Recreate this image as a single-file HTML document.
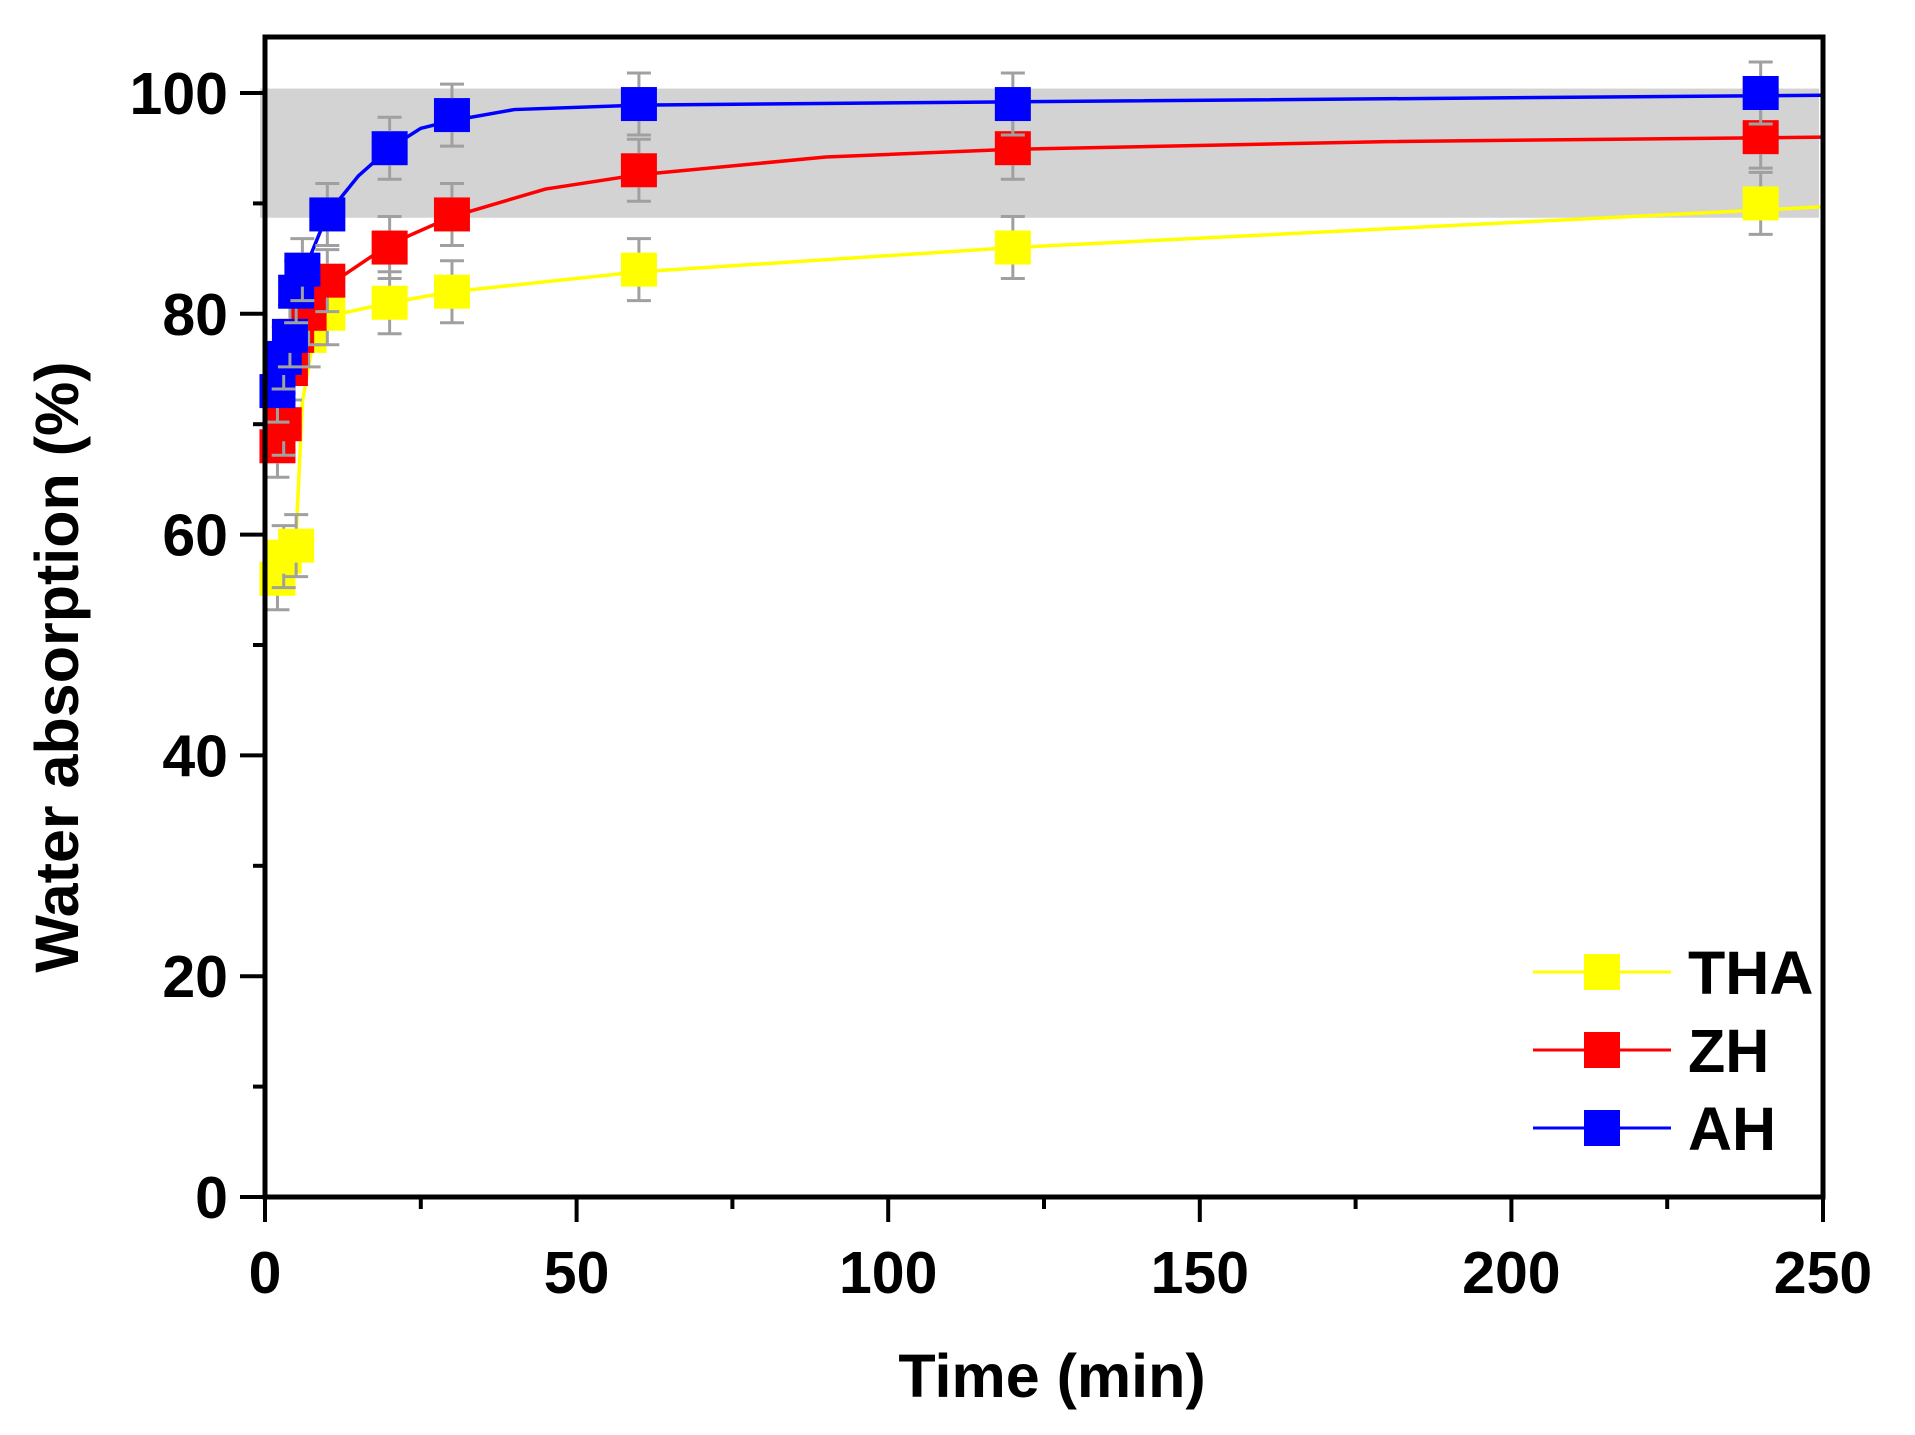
<!DOCTYPE html>
<html><head><style>body{margin:0;background:#fff}svg text{font-family:"Liberation Sans",Arial,sans-serif;font-weight:bold}</style></head>
<body>
<svg width="1915" height="1430" xmlns="http://www.w3.org/2000/svg" id="s"></svg>
<script>
const s=document.getElementById('s');
const X=t=>265+6.232*t, Y=v=>1197-11.04*v;
let h='';
h+=`<rect x="260" y="${Y(100.4)}" width="1559" height="${Y(88.7)-Y(100.4)}" fill="#d3d3d3"/>`;
const ser=[
 ['#ffff00',[[2,56],[3,58],[5,59],[7,78],[10,80],[20,81],[30,82],[60,84],[120,86],[240,90]],[[2,55.5],[3.5,58],[5,60],[6,72],[8,78.5],[12,80],[20,81],[30,82],[60,83.8],[120,86],[240,89.4],[250,89.7]]],
 ['#ff0000',[[2,68],[3,70],[4,75],[5,78],[7,80],[10,83],[20,86],[30,89],[60,93],[120,95],[240,96]],[[2,67.5],[3,71],[4,74.5],[5,77],[7,80],[10,82.5],[20,86.3],[30,88.8],[45,91.3],[60,92.6],[90,94.2],[120,94.9],[180,95.6],[250,96]]],
 ['#0000ff',[[2,73],[3,76],[4,78],[5,82],[6,84],[10,89],[20,95],[30,98],[60,99],[120,99],[240,100]],[[2,73],[3,76],[4,79],[6,83.5],[10,89],[15,92.5],[20,95],[25,96.8],[30,97.5],[40,98.5],[60,98.9],[120,99.2],[250,99.8]]]
];
for(const [c,pts,cur] of ser){
 h+=`<polyline fill="none" stroke="${c}" stroke-width="3.5" points="${cur.map(p=>X(p[0])+','+Y(p[1])).join(' ')}"/>`;
}
for(const [c,pts] of ser){
 for(const [t,v] of pts){
  const x=X(t),y=Y(v),e=31;
  h+=`<rect x="${x-18}" y="${y-17}" width="36" height="34" fill="${c}"/>`;
  h+=`<path d="M${x},${y-e}V${y-17}M${x},${y+17}V${y+e}M${x-12},${y-e}H${x+12}M${x-12},${y+e}H${x+12}" stroke="#a0a0a0" stroke-width="3"/>`;
 }
}
h+=`<rect x="265" y="37" width="1558" height="1160" fill="none" stroke="#000" stroke-width="5"/>`;
for(let v=0;v<=100;v+=10){const y=Y(v),l=v%20?12:25;h+=`<line x1="${265-l}" x2="265" y1="${y}" y2="${y}" stroke="#000" stroke-width="4"/>`;
 if(v%20==0)h+=`<text x="228" y="${y+21}" font-size="59" text-anchor="end">${v}</text>`;}
for(let t=0;t<=250;t+=25){const x=X(t),l=t%50?12:25;h+=`<line x1="${x}" x2="${x}" y1="1197" y2="${1197+l}" stroke="#000" stroke-width="4"/>`;
 if(t%50==0)h+=`<text x="${x}" y="1293" font-size="59" text-anchor="middle">${t}</text>`;}
h+=`<text x="1052" y="1397" font-size="61" text-anchor="middle">Time (min)</text>`;
h+=`<text transform="translate(78,667) rotate(-90)" font-size="61" text-anchor="middle">Water absorption (%)</text>`;
const lg=[['#ffff00','THA',972],['#ff0000','ZH',1050],['#0000ff','AH',1128]];
for(const [c,n,y] of lg){h+=`<line x1="1533" x2="1671" y1="${y}" y2="${y}" stroke="${c}" stroke-width="3"/><rect x="1584" y="${y-18}" width="36" height="36" fill="${c}"/><text x="1688" y="${y+22}" font-size="61">${n}</text>`;}
s.innerHTML=h;
</script>
</body></html>
